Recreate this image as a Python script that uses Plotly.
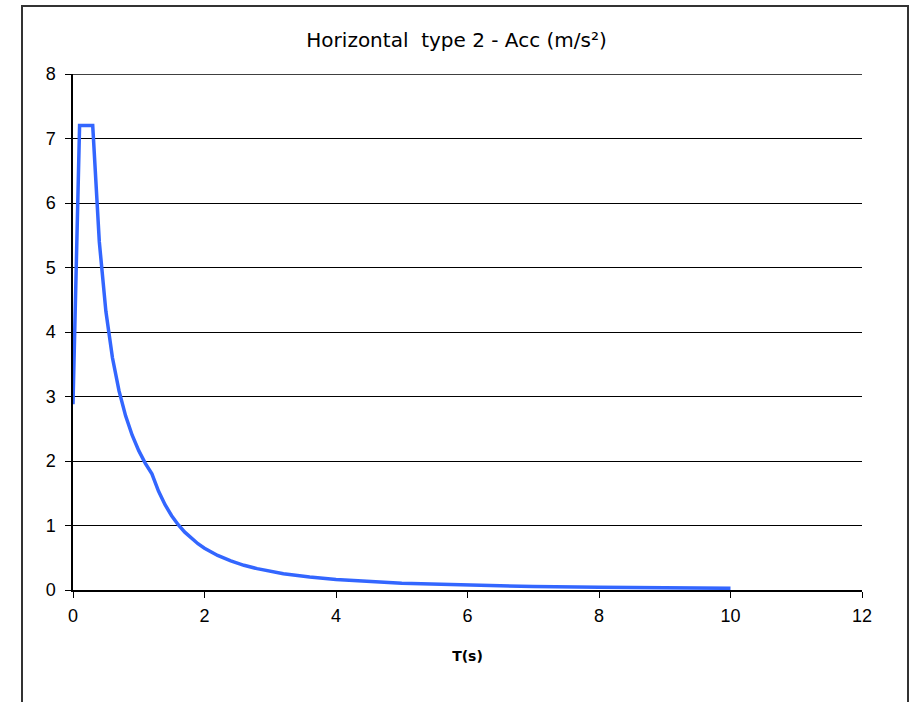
import plotly.graph_objects as go

# Elastic response spectrum, horizontal type 2: period T (s) and acceleration (m/s²)
period_s = [0, 0.1, 0.3, 0.4, 0.5, 0.6, 0.7, 0.8, 0.9, 1.0, 1.1, 1.2, 1.3, 1.4,
            1.5, 1.6, 1.7, 1.8, 1.9, 2.0, 2.2, 2.4, 2.6, 2.8, 3.0, 3.2, 3.6, 4.0,
            5.0, 6.0, 7.0, 8.0, 9.0, 10.0]
acc_ms2 = [2.88, 7.2, 7.2, 5.4, 4.32, 3.6, 3.086, 2.7, 2.4, 2.16, 1.964, 1.8,
           1.534, 1.322, 1.152, 1.013, 0.897, 0.8, 0.718, 0.648, 0.536, 0.45,
           0.383, 0.331, 0.288, 0.253, 0.2, 0.162, 0.104, 0.072, 0.053, 0.041,
           0.032, 0.026]

x_ticks = [0, 2, 4, 6, 8, 10, 12]
y_ticks = [0, 1, 2, 3, 4, 5, 6, 7, 8]

fig = go.Figure()
fig.add_trace(go.Scatter(
    x=period_s, y=acc_ms2, mode="lines",
    line=dict(color="#3366FF", width=3.5),
    hoverinfo="x+y", showlegend=False,
))

W, H = 912, 702
L, R, T, B = 73, 50, 74, 112
pw, ph = W - L - R, H - T - B

def px_x(p):
    return (p - L) / pw

def px_y(p):
    return (H - B - p) / ph

# outer chart frame (bottom edge runs off the page)
fig.add_shape(type="rect", xref="paper", yref="paper",
              x0=px_x(22), x1=px_x(908), y0=px_y(720), y1=px_y(6),
              line=dict(color="#333333", width=2), layer="below")

# top gridline at the axis maximum
fig.add_shape(type="line", xref="paper", yref="y",
              x0=0, x1=1, y0=y_ticks[-1], y1=y_ticks[-1],
              line=dict(color="black", width=1.3), layer="above")

fig.update_layout(
    width=W, height=H,
    margin=dict(l=L, r=R, t=T, b=B),
    paper_bgcolor="white", plot_bgcolor="white",
    font=dict(family="Liberation Sans, Arial, sans-serif", color="black"),
    title=dict(text="Horizontal  type 2 - Acc (m/s²)", x=px_x(468), xanchor="center",
               y=1 - 40 / H, yanchor="middle",
               font=dict(family="DejaVu Sans, sans-serif", size=20)),
    xaxis=dict(range=[0, 12], tickvals=x_ticks, ticks="outside", ticklen=6,
               tickcolor="black", showline=True, linecolor="black", linewidth=1.5,
               showgrid=False, zeroline=False, tickfont=dict(size=18),
               ticklabelstandoff=3,
               title=dict(text="<b>T(s)</b>",
                          font=dict(family="DejaVu Sans, sans-serif", size=14),
                          standoff=26)),
    yaxis=dict(range=[0, 8], tickvals=y_ticks, ticks="outside", ticklen=6,
               tickcolor="black", showline=True, linecolor="black", linewidth=1.5,
               showgrid=True, gridcolor="black", gridwidth=1.2, zeroline=False,
               tickfont=dict(size=18), ticklabelstandoff=6),
)

fig.write_html("out.html")
